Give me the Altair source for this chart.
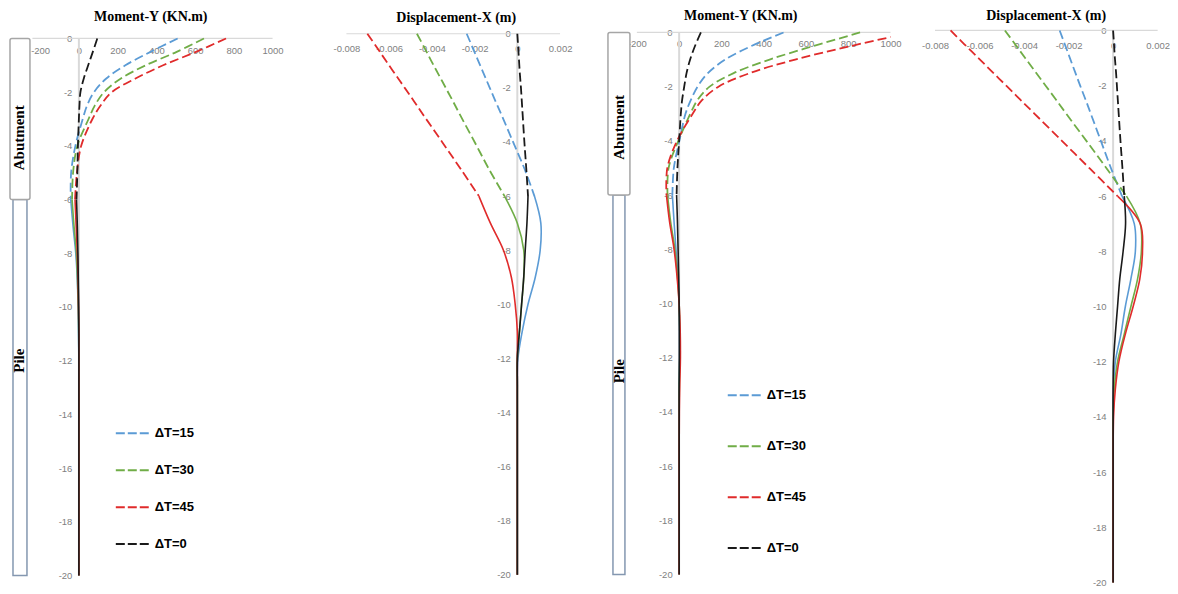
import altair as alt
import pandas as pd

# ---------------- data ----------------
SERIES = ["ΔT=15", "ΔT=30", "ΔT=45", "ΔT=0"]
COLORS = ["#5b9bd5", "#70ad47", "#e02b2b", "#1a1a1a"]

DEPTH_ABUT = [0, -0.5, -1, -1.5, -2, -2.5, -3, -4, -5, -6]
DEPTH_PILE = [-6, -7, -8, -9, -10, -11, -12, -13, -14, -16, -18, -20]

# Left pair: Moment-Y (kN.m)
M1_ABUT_15 = [510, 370, 240, 140, 78, 42, 20, -18, -40, -42]
M1_ABUT_30 = [646, 505, 345, 215, 130, 82, 50, -8, -30, -35]
M1_ABUT_45 = [760, 605, 435, 290, 170, 112, 70, 12, -10, -20]
M1_ABUT_0 = [95, 72, 48, 25, 8, 3, 0, -5, -8, -12]
M1_PILE_15 = [-42, -30, -16, -8, -4, -2, 0, 0, 0, 0, 0, 0]
M1_PILE_30 = [-35, -25, -13, -7, -3, -1, 0, 0, 0, 0, 0, 0]
M1_PILE_45 = [-20, -14, -8, -4, -2, 0, 0, 0, 0, 0, 0, 0]
M1_PILE_0 = [-12, -8, -5, -3, -1, 0, 0, 0, 0, 0, 0, 0]

# Left pair: Displacement-X (m)
D1_ABUT_15 = [-0.00237, -0.00210, -0.00183, -0.00156, -0.00129, -0.00102, -0.00074, -0.00020, 0.00034, 0.00080]
D1_ABUT_30 = [-0.00470, -0.00436, -0.00403, -0.00369, -0.00335, -0.00301, -0.00268, -0.00200, -0.00133, -0.00060]
D1_ABUT_45 = [-0.00702, -0.00658, -0.00615, -0.00571, -0.00527, -0.00483, -0.00440, -0.00352, -0.00265, -0.00180]
D1_ABUT_0 = [0.0, 0.00004, 0.00008, 0.00012, 0.00017, 0.00021, 0.00025, 0.00033, 0.00042, 0.00050]
D1_PILE_15 = [0.00080, 0.00110, 0.00107, 0.00084, 0.00050, 0.00023, 0.00003, 0.0, 0.0, 0.0, 0.0, 0.0]
D1_PILE_30 = [-0.00060, 0.0, 0.00030, 0.00030, 0.00020, 0.00010, 0.0, 0.0, 0.0, 0.0, 0.0, 0.0]
D1_PILE_45 = [-0.00180, -0.00126, -0.00065, -0.00028, -0.00010, 0.0, 0.0, 0.0, 0.0, 0.0, 0.0, 0.0]
D1_PILE_0 = [0.00050, 0.00045, 0.00037, 0.00030, 0.00020, 0.00010, 0.0, 0.0, 0.0, 0.0, 0.0, 0.0]

# Right pair: Moment-Y (kN.m)
M2_ABUT_15 = [494, 342, 218, 136, 87, 55, 30, 1, -25, -32]
M2_ABUT_30 = [856, 636, 428, 258, 144, 86, 53, -4, -50, -55]
M2_ABUT_45 = [1100, 813, 549, 334, 186, 108, 64, -10, -56, -60]
M2_ABUT_0 = [103, 75, 52, 35, 24, 14, 8, 0, -8, -12]
M2_PILE_15 = [-32, -24, -15, -6, 0, 2, 2, 0, 0, 0, 0, 0]
M2_PILE_30 = [-55, -40, -20, -8, 0, 3, 3, 1, 0, 0, 0, 0]
M2_PILE_45 = [-60, -45, -24, -10, 0, 5, 6, 3, 1, 0, 0, 0]
M2_PILE_0 = [-12, -8, -5, -2, 0, 1, 1, 0, 0, 0, 0, 0]

# Right pair: Displacement-X (m)
D2_ABUT_15 = [-0.00240, -0.00217, -0.00194, -0.00171, -0.00148, -0.00124, -0.00101, -0.00055, -0.00009, 0.00040]
D2_ABUT_30 = [-0.00486, -0.00440, -0.00395, -0.00349, -0.00303, -0.00257, -0.00212, -0.00120, -0.00029, 0.00060]
D2_ABUT_45 = [-0.00730, -0.00668, -0.00605, -0.00543, -0.00480, -0.00418, -0.00355, -0.00230, -0.00105, 0.00020]
D2_ABUT_0 = [0.0, 0.00004, 0.00008, 0.00013, 0.00017, 0.00021, 0.00025, 0.00033, 0.00042, 0.00050]
D2_PILE_15 = [0.00040, 0.00095, 0.00100, 0.00080, 0.00055, 0.00035, 0.00010, 0.00002, 0.0, 0.0, 0.0, 0.0]
D2_PILE_30 = [0.00060, 0.00122, 0.00127, 0.00110, 0.00080, 0.00050, 0.00020, 0.00005, 0.0, 0.0, 0.0, 0.0]
D2_PILE_45 = [0.00020, 0.00122, 0.00132, 0.00120, 0.00090, 0.00055, 0.00026, 0.00010, 0.00002, 0.0, 0.0, 0.0]
D2_PILE_0 = [0.00050, 0.00056, 0.00045, 0.00030, 0.00020, 0.00010, 0.00002, 0.0, 0.0, 0.0, 0.0, 0.0]

DEPTH_TICKS = [0, -2, -4, -6, -8, -10, -12, -14, -16, -18, -20]
MOMENT_TICKS = [-200, 0, 200, 400, 600, 800, 1000]
DISP_TICKS = [-0.008, -0.006, -0.004, -0.002, 0, 0.002]

# schematic (depth ranges of the structure)
ABUTMENT_TOP, ABUTMENT_BOTTOM = 0, -6
PILE_TOP, PILE_BOTTOM = -6, -20

H = 576
FONT = "Liberation Sans"
SERIF = "Liberation Serif"


def build_df(abut, pile):
    rows = []
    for s, a, p in zip(SERIES, abut, pile):
        for i, (d, v) in enumerate(zip(DEPTH_ABUT, a)):
            rows.append({"series": s, "seg": "a", "idx": i, "depth": d, "val": v})
        for i, (d, v) in enumerate(zip(DEPTH_PILE, p)):
            rows.append({"series": s, "seg": "b", "idx": i, "depth": d, "val": v})
    return pd.DataFrame(rows)


def panel(df, width, xdom, ydom, xticks, xrange_line, x0, y0, xlabel_expr,
          xpad, title, tx, ty, legend=None, schem=None):
    xscale = alt.Scale(domain=xdom, nice=False, zero=False)
    yscale = alt.Scale(domain=ydom, nice=False, zero=False)
    xaxis = alt.Axis(values=xticks, orient="bottom", offset=y0 - H, domain=False,
                     ticks=False, tickSize=0, grid=False, title=None,
                     labelColor="#7f7f7f", labelFontSize=9.5, labelFont=FONT,
                     labelPadding=xpad, labelExpr=xlabel_expr, labelOverlap=False,
                     labelFlush=False)
    yaxis = alt.Axis(values=DEPTH_TICKS, orient="left", offset=-x0, domain=False,
                     ticks=False, tickSize=0, grid=False, title=None,
                     labelColor="#7f7f7f", labelFontSize=9.5, labelFont=FONT,
                     labelPadding=7, labelOverlap=False,
                     labelExpr="datum.value == 0 ? '0' : '-' + abs(datum.value)")
    color = alt.Color("series:N", scale=alt.Scale(domain=SERIES, range=COLORS),
                      legend=legend)

    vline = pd.DataFrame({"val": [0], "depth": [0], "depth2": [-20]})
    hline = pd.DataFrame({"val": [xrange_line[0]], "val2": [xrange_line[1]], "depth": [0]})

    layers = []
    layers.append(alt.Chart(hline).mark_rule(color="#d9d9d9", strokeWidth=1.2).encode(
        x=alt.X("val:Q", scale=xscale, axis=xaxis), x2="val2:Q",
        y=alt.Y("depth:Q", scale=yscale, axis=yaxis)))
    layers.append(alt.Chart(vline).mark_rule(color="#d9d9d9", strokeWidth=2).encode(
        x="val:Q", y="depth:Q", y2="depth2:Q"))

    if schem is not None:
        ax1, ax2, px1, px2, tx_lab, abut_lab_d, pile_lab_d = schem
        pile_df = pd.DataFrame({"top": [PILE_TOP], "bot": [PILE_BOTTOM]})
        abut_df = pd.DataFrame({"top": [ABUTMENT_TOP], "bot": [ABUTMENT_BOTTOM]})
        layers.append(alt.Chart(pile_df).mark_rect(fill="white", stroke="#8497b0",
                                                   strokeWidth=1.5).encode(
            x=alt.value(px1), x2=alt.value(px2), y="top:Q", y2="bot:Q"))
        layers.append(alt.Chart(abut_df).mark_rect(fill="white", stroke="#a6a6a6",
                                                   strokeWidth=1.5, cornerRadius=2).encode(
            x=alt.value(ax1), x2=alt.value(ax2), y="top:Q", y2="bot:Q"))
        lab_df = pd.DataFrame({"lab": ["Abutment", "Pile"], "depth": [abut_lab_d, pile_lab_d]})
        layers.append(alt.Chart(lab_df).mark_text(font=SERIF, fontSize=15, fontWeight="bold",
                                                  angle=270, color="black",
                                                  baseline="middle", align="center").encode(
            x=alt.value(tx_lab), y="depth:Q", text="lab:N"))

    base = alt.Chart(df)
    layers.append(base.transform_filter(alt.datum.seg == "a").mark_line(
        strokeWidth=1.8, strokeDash=[9, 4], interpolate="catmull-rom", clip=True).encode(
        x="val:Q", y="depth:Q", color=color, order=alt.Order("idx:Q"),
        detail="series:N"))
    layers.append(base.transform_filter(alt.datum.seg == "b").mark_line(
        strokeWidth=1.6, interpolate="catmull-rom", clip=True).encode(
        x="val:Q", y="depth:Q", color=color, order=alt.Order("idx:Q"),
        detail="series:N"))

    tdf = pd.DataFrame({"t": [title]})
    layers.append(alt.Chart(tdf).mark_text(font=SERIF, fontSize=14, fontWeight="bold",
                                           color="black", align="center",
                                           baseline="middle").encode(
        x=alt.value(tx), y=alt.value(ty), text="t:N"))

    return alt.layer(*layers).properties(width=width, height=H)


def moment_legend(lx, ly, rowpad):
    return alt.Legend(orient="none", legendX=lx, legendY=ly, title=None,
                      symbolType="stroke", symbolSize=1225, symbolStrokeWidth=2,
                      symbolDash=[9, 3], labelFont=FONT, labelFontSize=13,
                      labelFontWeight="bold", labelColor="#000000", rowPadding=rowpad,
                      padding=0, labelOffset=3)


MOM_EXPR = "datum.value < 0 ? '-' + abs(datum.value) : '' + datum.value"
DISP_EXPR = ("datum.value == 0 ? '0' : (datum.value < 0 ? '-' + format(abs(datum.value), '.3f')"
             " : format(datum.value, '.3f'))")

df_m1 = build_df([M1_ABUT_15, M1_ABUT_30, M1_ABUT_45, M1_ABUT_0],
                 [M1_PILE_15, M1_PILE_30, M1_PILE_45, M1_PILE_0])
df_d1 = build_df([D1_ABUT_15, D1_ABUT_30, D1_ABUT_45, D1_ABUT_0],
                 [D1_PILE_15, D1_PILE_30, D1_PILE_45, D1_PILE_0])
df_m2 = build_df([M2_ABUT_15, M2_ABUT_30, M2_ABUT_45, M2_ABUT_0],
                 [M2_PILE_15, M2_PILE_30, M2_PILE_45, M2_PILE_0])
df_d2 = build_df([D2_ABUT_15, D2_ABUT_30, D2_ABUT_45, D2_ABUT_0],
                 [D2_PILE_15, D2_PILE_30, D2_PILE_45, D2_PILE_0])

p1 = panel(df_m1, 292, [-366.0, 1139.2], [-20.297, 1.1152], MOMENT_TICKS, [-240, 1000],
           71, 30, MOM_EXPR, 7, "Moment-Y (KN.m)", 143, 9,
           legend=moment_legend(107, 407, 11),
           schem=(2, 22, 5, 19, 11, -3.7, -12))
p2 = panel(df_d1, 300, [-0.010196, 0.003822], [-20.32, 0.9336], DISP_TICKS, [-0.008, 0.002],
           218.2, 25.3, DISP_EXPR, 10, "Displacement-X (m)", 157, 10)
p3 = panel(df_m2, 292, [-379.3, 1000.0], [-20.33, 0.884], MOMENT_TICKS, [-200, 1000],
           80.3, 24, MOM_EXPR, 6, "Moment-Y (KN.m)", 142, 8,
           legend=moment_legend(128, 369, 25),
           schem=(9, 31, 14, 26, 20, -3.5, -12.5))
p4 = panel(df_d2, 278, [-0.0100, 0.002466], [-20.036, 0.7957], DISP_TICKS, [-0.008, 0.002],
           223, 22, DISP_EXPR, 10, "Displacement-X (m)", 156, 8)

chart = alt.hconcat(p1, p2, p3, p4, spacing=0, bounds="flush", padding=0,
                    background="white").resolve_scale(
    x="independent", y="independent", color="independent"
).configure_view(stroke=None)

chart.save("out.html", embed_options={"renderer": "svg", "actions": False})
